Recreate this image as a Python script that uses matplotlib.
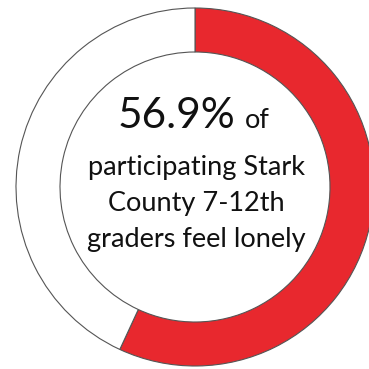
import matplotlib
matplotlib.use("Agg")
import matplotlib.pyplot as plt

# Share of students reporting loneliness
labels = ["Feel lonely", "Do not"]
shares = [56.9, 43.1]
colors = ["#E8282E", "white"]

caption = ["participating Stark", "County 7-12th", "graders feel lonely"]

plt.rcParams["font.family"] = ["Lato", "DejaVu Sans"]

fig = plt.figure(figsize=(3.69, 3.69), dpi=100)
ax = fig.add_axes([0, 0, 1, 1])

cx, cy = 195, 182
ax.pie(shares, colors=colors, startangle=90, counterclock=False,
       center=(cx, cy), radius=179, frame=True,
       wedgeprops=dict(width=44, edgecolor="#555555", linewidth=0.8))
ax.set_xlim(0, 369)
ax.set_ylim(0, 369)
ax.set_aspect("equal")
ax.axis("off")

ax.text(cx + 40, cy + 59, f"{shares[0]:.1f}%", fontsize=30.5, ha="right",
        va="baseline", color="#111111")
ax.text(cx + 50, cy + 59, "of", fontsize=19.5, ha="left", va="baseline",
        color="#111111")
for i, line in enumerate(caption):
    ax.text(cx + 1, cy + 12 - i * 36, line, fontsize=19.5, ha="center",
            va="baseline", color="#111111")

fig.savefig("out.png", dpi=100)
